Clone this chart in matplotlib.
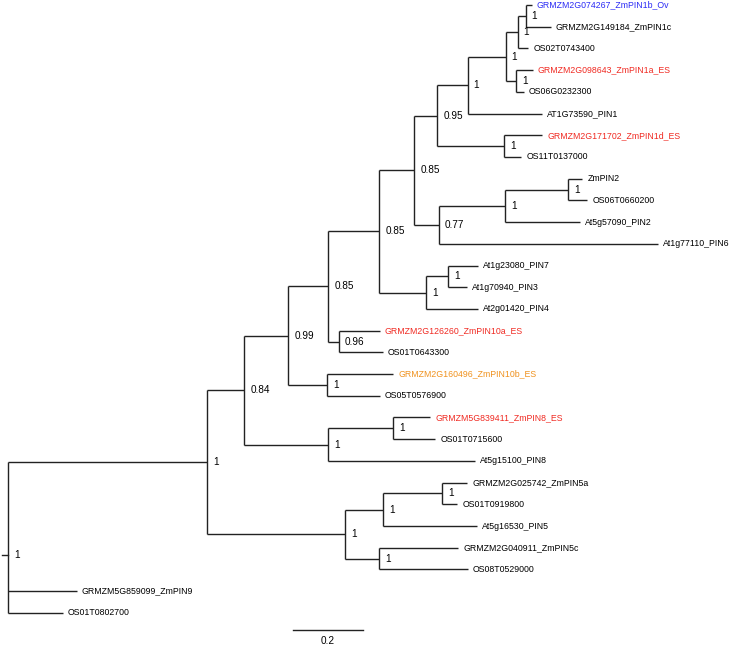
import matplotlib
matplotlib.use('Agg')
import matplotlib.pyplot as plt

plt.rcParams['font.family'] = ['Liberation Sans', 'DejaVu Sans']

# arbol: nombre, padre, longitud de rama, soporte (nodos internos)
names = ['root', 'n1', 'n2', 'n3', 'n4', 'n5', 'n6', 'n7', 'n8', 'n9', 'n10', 'n11',
         'GRMZM2G074267_ZmPIN1b_Ov', 'GRMZM2G149184_ZmPIN1c', 'OS02T0743400',
         'n12', 'GRMZM2G098643_ZmPIN1a_ES', 'OS06G0232300', 'AT1G73590_PIN1',
         'n13', 'GRMZM2G171702_ZmPIN1d_ES', 'OS11T0137000',
         'n14', 'n15', 'n16', 'ZmPIN2', 'OS06T0660200', 'At5g57090_PIN2', 'At1g77110_PIN6',
         'n17', 'n18', 'At1g23080_PIN7', 'At1g70940_PIN3', 'At2g01420_PIN4',
         'n19', 'GRMZM2G126260_ZmPIN10a_ES', 'OS01T0643300',
         'n20', 'GRMZM2G160496_ZmPIN10b_ES', 'OS05T0576900',
         'n21', 'n22', 'GRMZM5G839411_ZmPIN8_ES', 'OS01T0715600', 'At5g15100_PIN8',
         'n23', 'n24', 'n25', 'GRMZM2G025742_ZmPIN5a', 'OS01T0919800', 'At5g16530_PIN5',
         'n26', 'GRMZM2G040911_ZmPIN5c', 'OS08T0529000',
         'GRMZM5G859099_ZmPIN9', 'OS01T0802700']
parents = [None, 'root', 'n1', 'n2', 'n3', 'n4', 'n5', 'n6', 'n7', 'n8', 'n9', 'n10',
           'n11', 'n11', 'n10',
           'n9', 'n12', 'n12', 'n8',
           'n7', 'n13', 'n13',
           'n6', 'n14', 'n15', 'n16', 'n16', 'n15', 'n14',
           'n5', 'n17', 'n18', 'n18', 'n17',
           'n4', 'n19', 'n19',
           'n3', 'n20', 'n20',
           'n2', 'n21', 'n22', 'n22', 'n21',
           'n1', 'n23', 'n24', 'n25', 'n25', 'n24',
           'n23', 'n26', 'n26',
           'root', 'root']
blen = [0.0, 0.569, 0.106, 0.126, 0.114, 0.146, 0.100, 0.066, 0.086, 0.109, 0.034, 0.023,
        0.017, 0.071, 0.031,
        0.029, 0.049, 0.023, 0.214,
        0.191, 0.109, 0.049,
        0.069, 0.191, 0.180, 0.040, 0.054, 0.214, 0.626,
        0.134, 0.063, 0.086, 0.054, 0.149,
        0.031, 0.117, 0.126,
        0.111, 0.189, 0.151,
        0.240, 0.186, 0.106, 0.120, 0.420,
        0.394, 0.109, 0.169, 0.071, 0.043, 0.269,
        0.097, 0.226, 0.254,
        0.197, 0.157]
support = {'root': '1', 'n1': '1', 'n2': '0.84', 'n3': '0.99', 'n4': '0.85', 'n5': '0.85',
           'n6': '0.85', 'n7': '0.95', 'n8': '1', 'n9': '1', 'n10': '1', 'n11': '1',
           'n12': '1', 'n13': '1', 'n14': '0.77', 'n15': '1', 'n16': '1', 'n17': '1',
           'n18': '1', 'n19': '0.96', 'n20': '1', 'n21': '1', 'n22': '1', 'n23': '1',
           'n24': '1', 'n25': '1', 'n26': '1'}
colores = {'GRMZM2G074267_ZmPIN1b_Ov': '#2b2bf5',
           'GRMZM2G098643_ZmPIN1a_ES': '#f02a22',
           'GRMZM2G171702_ZmPIN1d_ES': '#f02a22',
           'GRMZM2G126260_ZmPIN10a_ES': '#f02a22',
           'GRMZM2G160496_ZmPIN10b_ES': '#f0921e',
           'GRMZM5G839411_ZmPIN8_ES': '#f02a22'}

hijos = {n: [] for n in names}
for n, p in zip(names, parents):
    if p is not None:
        hijos[p].append(n)
largo = dict(zip(names, blen))

# posiciones x (distancia a la raiz) e y (orden de hojas)
xpos = {}
ypos = {}
cont = [0]
def recorrer(n, x0):
    xpos[n] = x0 + largo[n]
    if not hijos[n]:
        ypos[n] = cont[0]
        cont[0] += 1
    else:
        for h in hijos[n]:
            recorrer(h, xpos[n])
        ys = [ypos[h] for h in hijos[n]]
        ypos[n] = sum(ys) / len(ys)
recorrer('root', 0.0)

fig = plt.figure(figsize=(7.3, 6.47), dpi=100)
ax = fig.add_axes([0, 0, 1, 1])
lc = '#222222'
lw = 1.0
for n, p in zip(names, parents):
    if p is None:
        continue
    ax.plot([xpos[p], xpos[n]], [ypos[n], ypos[n]], color=lc, lw=lw, solid_capstyle='butt')
for n in names:
    if hijos[n]:
        ys = [ypos[h] for h in hijos[n]]
        ax.plot([xpos[n], xpos[n]], [min(ys), max(ys)], color=lc, lw=lw, solid_capstyle='butt')
        ax.text(xpos[n] + 0.017, ypos[n], support[n], fontsize=7.2, va='center', ha='left')
    else:
        ax.text(xpos[n] + 0.014, ypos[n], n, fontsize=6.3, va='center', ha='left',
                color=colores.get(n, 'black'))

# tallo de la raiz
ax.plot([-0.017, 0], [ypos['root'], ypos['root']], color=lc, lw=lw)

# barra de escala
ax.plot([0.814, 1.014], [28.79, 28.79], color=lc, lw=lw)
ax.text(0.914, 29.3, '0.2', fontsize=7.2, ha='center', va='center')

ax.set_xlim(-8 / 350, 722 / 350)
ax.set_ylim(642 / 21.71, -5 / 21.71)
ax.axis('off')

fig.savefig('out.png')
